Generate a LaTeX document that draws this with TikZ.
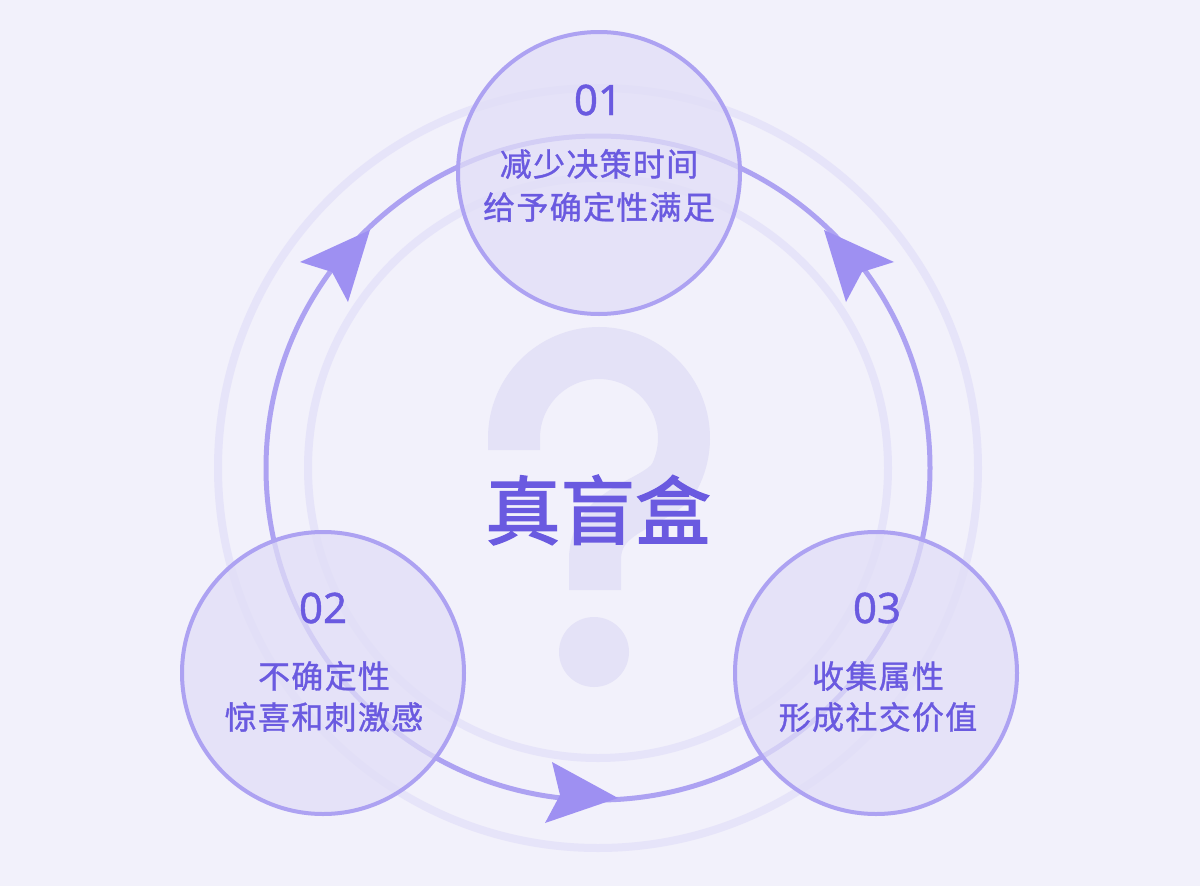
\documentclass[tikz,border=0pt]{standalone}
\usepackage{fontspec}
\newfontfamily\cjk{Noto Sans CJK SC}[FakeBold=1.1,LetterSpace=4]
\newfontfamily\cjkt{Noto Sans CJK SC}[FakeBold=2.2]
\newfontfamily\numfont{Noto Sans}[FakeBold=1.0]
\definecolor{bgc}{HTML}{F2F1FB}
\definecolor{faintc}{HTML}{E6E4F9}
\definecolor{qmc}{HTML}{E4E2F7}
\definecolor{ringc}{HTML}{ADA2F2}
\definecolor{arrowc}{HTML}{9E90F2}
\definecolor{fillc}{HTML}{E1DEF7}
\definecolor{textc}{HTML}{6A5AE0}
\begin{document}
\begin{tikzpicture}[x=1pt,y=-1pt,
  faint/.style={draw=faintc, line width=8pt},
  ringline/.style={draw=ringc, line width=5pt},
  arrowhead/.style={fill=arrowc, draw=none},
  stage/.style={circle, minimum size=282pt, inner sep=0pt, fill=fillc, fill opacity=0.75, draw=ringc, draw opacity=1, line width=4pt},
  num/.style={text=textc, font=\numfont\fontsize{42}{42}\selectfont, inner sep=0pt},
  lbl/.style={text=textc, font=\cjk\fontsize{32}{32}\selectfont, inner sep=0pt},
  title/.style={text=textc, font=\cjkt\fontsize{75}{75}\selectfont, inner sep=0pt}
]
\fill[bgc] (0,0) rectangle (1200,886);
\useasboundingbox (0,0) rectangle (1200,886);

% faint rings
\coordinate (c) at (598,468);
\draw[faint] (c) circle[radius=380];
\draw[faint] (c) circle[radius=290];

% big question mark
\draw[qmc, line width=52pt, line cap=butt]
  (514,450) -- (514,438) arc[start angle=180, end angle=385, radius=85]
  .. controls (662,505) and (595,505) .. (595,560) -- (595,590);
\fill[qmc] (594,652) circle[radius=35];

% main cycle ring
\draw[ringline] (c) circle[radius=332];

% arrowheads
\fill[arrowhead] (370,230) -- (300,262) -- (332,272) -- (348,302) -- cycle;
\fill[arrowhead] (824,230) -- (894,262) -- (862,272) -- (846,302) -- cycle;
\fill[arrowhead] (618,798) -- (552,762) -- (560,795) -- (545,823) -- cycle;

% stage circles
\node[stage] (s1) at (599,173) {};
\node[stage] (s2) at (323,673) {};
\node[stage] (s3) at (876,673) {};

% texts
\node[num] (n1) at (598,100) {01};
\node[lbl] (a1) at (599,164) {减少决策时间};
\node[lbl] (b1) at (599,207) {给予确定性满足};

\node[num] (n2) at (323,608) {02};
\node[lbl] (a2) at (324,676) {不确定性};
\node[lbl] (b2) at (324,717) {惊喜和刺激感};

\node[num] (n3) at (877,608) {03};
\node[lbl] (a3) at (878,676) {收集属性};
\node[lbl] (b3) at (878,717) {形成社交价值};

\node[title] (t) at (598,510) {真盲盒};
\end{tikzpicture}
\end{document}
